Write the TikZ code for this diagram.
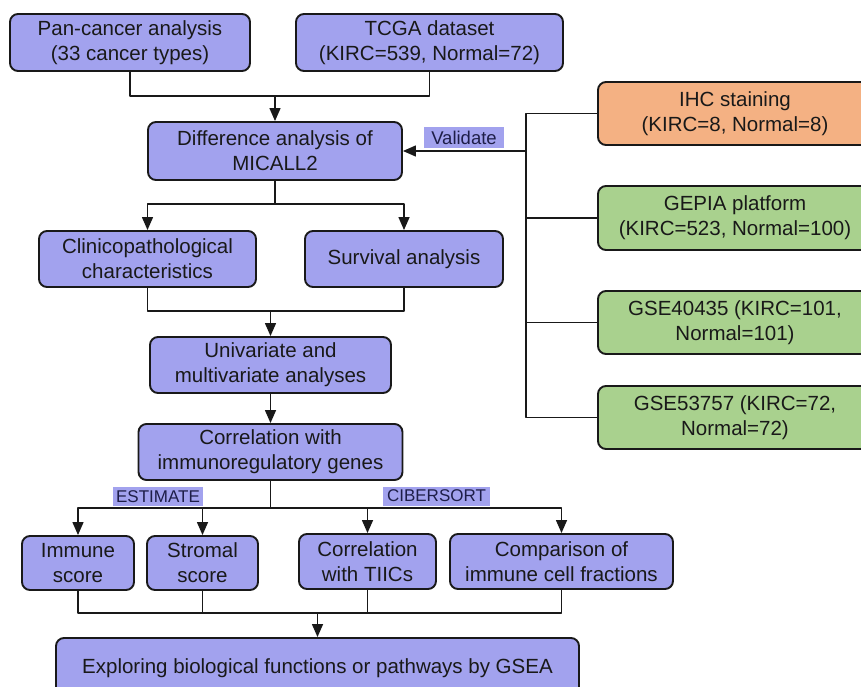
\documentclass[tikz,border=0pt]{standalone}
\usepackage{fontspec}
\setmainfont{Liberation Sans}
\usetikzlibrary{%
	arrows.meta,%
	calc%
}
\definecolor{boxblue}{RGB}{162,162,238}
\definecolor{ihcorange}{RGB}{244,177,131}
\definecolor{geogreen}{RGB}{169,209,142}
\definecolor{tagtext}{RGB}{30,30,72}
\tikzstyle{box}=[draw=black!90, line width=1.9pt, rounded corners=8pt, fill=boxblue, text=black!90, align=center, inner sep=0pt, font=\fontsize{20.5}{25}\selectfont]
\tikzstyle{tag}=[fill=boxblue, inner sep=0pt, text=tagtext, font=\fontsize{17}{17}\selectfont]
\tikzstyle{line}=[draw, line width=1.4pt, black!90]
\tikzstyle{flow}=[line, -{Triangle[length=13pt,width=11pt]}]

\begin{document}
\begin{tikzpicture}[x=1pt, y=-1pt, line join=round]
		\useasboundingbox (0,0) rectangle (861,687);
		\clip (0,0) rectangle (861,687);
		
		% Main column
		\node[box, minimum width=240pt, minimum height=57pt] (pan) at (130,42.5) {Pan-cancer analysis\\(33 cancer types)};
		\node[box, minimum width=267pt, minimum height=57pt] (tcga) at (429.5,42.5) {TCGA dataset\\(KIRC=539, Normal=72)};
		\node[box, minimum width=254pt, minimum height=58pt] (diff) at (275,151) {Difference analysis of\\MICALL2};
		\node[box, minimum width=217pt, minimum height=56pt] (clin) at (147.5,259) {Clinicopathological\\characteristics};
		\node[box, minimum width=198pt, minimum height=56pt] (surv) at (404,259) {Survival analysis};
		\node[box, minimum width=241pt, minimum height=56pt] (uni) at (270.5,365) {Univariate and\\multivariate analyses};
		\node[box, minimum width=264pt, minimum height=56pt] (corr) at (270.5,452) {Correlation with\\immunoregulatory genes};
		\node[box, minimum width=112pt, minimum height=54pt] (imm) at (78,563) {Immune\\score};
		\node[box, minimum width=111pt, minimum height=54pt] (stro) at (202.5,563) {Stromal\\score};
		\node[box, minimum width=137pt, minimum height=55pt] (tiic) at (367.5,561.5) {Correlation\\with TIICs};
		\node[box, minimum width=223pt, minimum height=55pt] (comp) at (561.5,561.5) {Comparison of\\immune cell fractions};
		\node[box, minimum width=523pt, minimum height=60pt] (gsea) at (317.5,668) {Exploring biological functions or pathways by GSEA};
		
		% Validation column
		\node[box, fill=ihcorange, minimum width=274pt, minimum height=63pt] (ihc) at (735,113.5) {IHC staining\\(KIRC=8, Normal=8)};
		\node[box, fill=geogreen, minimum width=274pt, minimum height=64pt] (gepia) at (735,218) {GEPIA platform\\(KIRC=523, Normal=100)};
		\node[box, fill=geogreen, minimum width=274pt, minimum height=63pt] (gseA) at (735,322.5) {GSE40435 (KIRC=101,\\Normal=101)};
		\node[box, fill=geogreen, minimum width=274pt, minimum height=63pt] (gseB) at (735,417.5) {GSE53757 (KIRC=72,\\Normal=72)};
		
		% Tags
		\node[tag, minimum width=80pt, minimum height=21pt, font=\fontsize{18.5}{18.5}\selectfont] (validate) at (464,138) {Validate};
		\node[tag, minimum width=90pt, minimum height=19pt] (estimate) at (158,496.5) {ESTIMATE};
		\node[tag, minimum width=107pt, minimum height=19pt] (cibersort) at (436.5,496) {CIBERSORT};
		
		% Junctions
		\coordinate (m1) at (275,96);
		\coordinate (bus) at (526,151);
		\coordinate (s1) at (275,204);
		\coordinate (m2) at (270.5,311);
		\coordinate (s2) at (270.5,508);
		\coordinate (m3) at (317.5,613);
		
		\draw[line] (pan.south) |- (m1) -| (tcga.south);
		\draw[flow] (m1) -- (diff.north);
		
		\draw[line] (ihc.west) -| (bus);
		\draw[line] (gseB.west) -| (bus);
		\draw[line] (gepia.west) -- (gepia.west -| bus);
		\draw[line] (gseA.west) -- (gseA.west -| bus);
		\draw[flow] (bus) -- (diff.east);
		
		\draw[line] (diff.south) -- (s1);
		\draw[flow] (s1) -| (clin.north);
		\draw[flow] (s1) -| (surv.north);
		\draw[line] (clin.south) |- (m2) -| (surv.south);
		\draw[flow] (m2) -- (uni.north);
		\draw[flow] (uni.south) -- (corr.north);
		
		\draw[line] (corr.south) -- (s2);
		\foreach \target in {imm,stro,tiic,comp}
		\draw[flow] (s2) -| (\target.north);
		
		\draw[line] (imm.south) |- (m3) -| (comp.south);
		\foreach \source in {stro,tiic}
		\draw[line] (\source.south) -- (\source.south |- m3);
		\draw[flow] (m3) -- (gsea.north);
	\end{tikzpicture}
\end{document}
